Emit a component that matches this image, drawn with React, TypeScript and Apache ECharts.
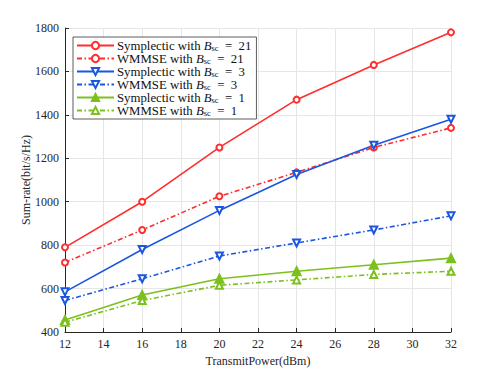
import React, { useEffect, useRef } from "react";
import * as echarts from "echarts";

const xValues = [12, 16, 20, 24, 28, 32];
const sympB21 = [790, 1000, 1250, 1470, 1630, 1780];
const wmmseB21 = [720, 870, 1025, 1135, 1250, 1340];
const sympB3 = [585, 780, 960, 1125, 1260, 1380];
const wmmseB3 = [545, 645, 750, 810, 870, 935];
const sympB1 = [455, 570, 645, 680, 710, 740];
const wmmseB1 = [445, 545, 615, 640, 665, 680];
const seriesNames = [
  "Symplectic with B21",
  "WMMSE with B21",
  "Symplectic with B3",
  "WMMSE with B3",
  "Symplectic with B1",
  "WMMSE with B1",
];
const legendLabels: Record<string, string> = {
  "Symplectic with B21": "Symplectic with {it|B}{sub|sc}{t|  =  21}",
  "WMMSE with B21": "WMMSE with {it|B}{sub|sc}{t|  =  21}",
  "Symplectic with B3": "Symplectic with {it|B}{sub|sc}{t|  =  3}",
  "WMMSE with B3": "WMMSE with {it|B}{sub|sc}{t|  =  3}",
  "Symplectic with B1": "Symplectic with {it|B}{sub|sc}{t|  =  1}",
  "WMMSE with B1": "WMMSE with {it|B}{sub|sc}{t|  =  1}",
};

const RED = "#ff2d2d";
const BLUE = "#1a56e0";
const GREEN = "#7cc01e";
const FONT = "Liberation Serif";
const DASHDOT = [5, 2.5, 1.5, 2.5];
const FS = 12;
const LFS = 12.8;

export default function App() {
  const ref = useRef<HTMLDivElement>(null);
  useEffect(() => {
    if (!ref.current) return;
    const chart = echarts.init(ref.current, null, { renderer: "svg" });
    const mk = (
      name: string,
      data: number[],
      color: string,
      dashed: boolean,
      symbol: string,
      rotate: number,
      size: number
    ) => ({
      name,
      type: "line",
      data: xValues.map((x, i) => [x, data[i]]),
      symbol,
      symbolSize: size,
      symbolRotate: rotate,
      itemStyle: { color, borderColor: color, borderWidth: 2 },
      lineStyle: { color, width: 1.6, type: dashed ? DASHDOT : "solid" },
      z: 3,
    });
    chart.setOption({
      animation: false,
      textStyle: { fontFamily: FONT },
      grid: { left: 65, right: 47, top: 28, bottom: 42 },
      legend: {
        orient: "vertical",
        left: 73,
        top: 37,
        padding: [2, 5, 2, 3],
        itemGap: 0,
        itemWidth: 37,
        itemHeight: 9,
        backgroundColor: "#ffffff",
        borderColor: "#333333",
        borderWidth: 0.8,
        data: seriesNames,
        formatter: (n: string) => legendLabels[n],
        textStyle: {
          fontFamily: FONT,
          fontSize: LFS,
          lineHeight: 13,
          color: "#111",
          padding: [0, 0, 0, -2],
          rich: {
            it: { fontFamily: FONT, fontStyle: "italic", fontSize: LFS, lineHeight: 13, color: "#111" },
            sub: { fontFamily: FONT, fontSize: 8.5, lineHeight: 9, color: "#111", verticalAlign: "bottom" },
            t: { fontFamily: FONT, fontSize: LFS, lineHeight: 13, color: "#111" },
          },
        },
      },
      xAxis: {
        type: "value",
        min: 12,
        max: 32,
        interval: 2,
        name: "TransmitPower(dBm)",
        nameLocation: "middle",
        nameGap: 23,
        nameTextStyle: { fontFamily: FONT, fontSize: FS, color: "#262626" },
        axisLine: { lineStyle: { color: "#262626", width: 1 } },
        axisTick: { inside: true, length: 4, lineStyle: { color: "#262626" } },
        axisLabel: { fontFamily: FONT, fontSize: FS, color: "#262626", margin: 6 },
        splitLine: { show: true, lineStyle: { color: "#e6e6e6", width: 1 } },
      },
      yAxis: {
        type: "value",
        min: 400,
        max: 1800,
        interval: 200,
        name: "Sum-rate(bit/s/Hz)",
        nameLocation: "middle",
        nameGap: 33,
        nameMoveOverlap: false,
        nameTextStyle: { fontFamily: FONT, fontSize: FS, color: "#262626" },
        axisLine: { show: true, lineStyle: { color: "#262626", width: 1 } },
        axisTick: { show: true, inside: true, length: 4, lineStyle: { color: "#262626" } },
        axisLabel: {
          fontFamily: FONT,
          fontSize: FS,
          color: "#262626",
          margin: 6,
          formatter: (v: number) => String(v),
        },
        splitLine: { show: true, lineStyle: { color: "#e6e6e6", width: 1 } },
      },
      series: [
        mk(seriesNames[0], sympB21, RED, false, "emptyCircle", 0, 6),
        mk(seriesNames[1], wmmseB21, RED, true, "emptyCircle", 0, 6),
        mk(seriesNames[2], sympB3, BLUE, false, "emptyTriangle", 180, 7),
        mk(seriesNames[3], wmmseB3, BLUE, true, "emptyTriangle", 180, 7),
        mk(seriesNames[4], sympB1, GREEN, false, "triangle", 0, 8),
        mk(seriesNames[5], wmmseB1, GREEN, true, "emptyTriangle", 0, 7),
      ],
    });
    return () => chart.dispose();
  }, []);
  return <div ref={ref} style={{ width: 498, height: 374, marginLeft: -8, marginTop: -8 }} />;
}
